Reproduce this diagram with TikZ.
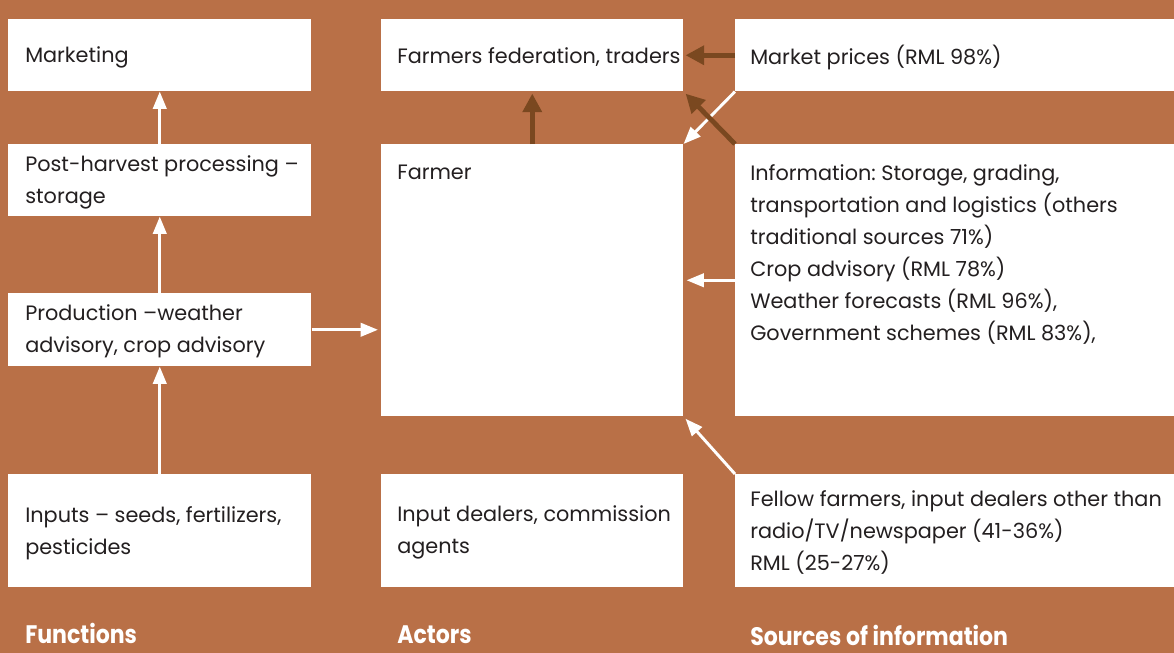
\documentclass[tikz,border=0pt]{standalone}
\usepackage{fontspec}
\setmainfont{Poppins}
\frenchspacing
\usetikzlibrary{arrows.meta,calc}
\definecolor{bg}{HTML}{B97047}
\definecolor{darr}{HTML}{7A4820}
\definecolor{ink}{HTML}{231F20}
\tikzset{
  box/.style={fill=white, draw=none, anchor=north west, inner sep=0pt},
  txt/.style={inner sep=0pt, align=left, text=ink, font=\fontsize{15.6}{24}\selectfont},
  lab/.style={inner sep=0pt, anchor=base west, text=white, font=\fontsize{19}{22}\selectfont\bfseries},
  warr/.style={draw=white, line width=2.2pt, -{Triangle[width=10pt,length=13pt]}},
  barr/.style={draw=darr, line width=3.6pt, -{Triangle[width=14pt,length=14pt]}}
}
\begin{document}
\begin{tikzpicture}[x=0.75pt,y=-0.75pt]
\fill[bg] (0,0) rectangle (1174,653);
\useasboundingbox (0,0) rectangle (1174,653);
% left column
\node[box, minimum width=303*0.75pt, minimum height=72*0.75pt] (mkt) at (8,19) {};
\node[box, minimum width=303*0.75pt, minimum height=72*0.75pt] (post) at (8,144) {};
\node[box, minimum width=303*0.75pt, minimum height=73*0.75pt] (prod) at (8,293) {};
\node[box, minimum width=303*0.75pt, minimum height=113*0.75pt] (inp) at (8,474) {};
% middle column
\node[box, minimum width=302*0.75pt, minimum height=72*0.75pt] (fed) at (381,19) {};
\node[box, minimum width=302*0.75pt, minimum height=272*0.75pt] (farmer) at (381,144) {};
\node[box, minimum width=302*0.75pt, minimum height=113*0.75pt] (dealers) at (381,474) {};
% right column
\node[box, minimum width=439*0.75pt, minimum height=72*0.75pt] (price) at (735,19) {};
\node[box, minimum width=439*0.75pt, minimum height=272*0.75pt] (info) at (735,144) {};
\node[box, minimum width=439*0.75pt, minimum height=113*0.75pt] (fellow) at (735,474) {};
% texts
\node[txt, anchor=west] (tmkt) at ([shift={(17,2)}]mkt.west) {Marketing};
\node[txt, anchor=west] (tpost) at ([shift={(17,2)}]post.west) {Post-harvest processing –\\storage};
\node[txt, anchor=west] (tprod) at ([shift={(17,2)}]prod.west) {Production –weather\\advisory, crop advisory};
\node[txt, anchor=west] (tinp) at ([shift={(17,2)}]inp.west) {Inputs – seeds, fertilizers,\\pesticides};
\node[txt, anchor=west] (tfed) at ([shift={(16,2)}]fed.west) {Farmers federation, traders};
\node[txt, anchor=north west] (tfarmer) at ([shift={(16,20.5)}]farmer.north west) {Farmer};
\node[txt, anchor=west] (tdealers) at ([shift={(16,2)}]dealers.west) {Input dealers, commission\\agents};
\node[txt, anchor=west] (tprice) at ([shift={(15,2)}]price.west) {Market prices (RML 98\%)};
\node[txt, anchor=north west] (tinfo) at ([shift={(15,20.5)}]info.north west) {Information: Storage, grading,\\transportation and logistics (others\\traditional sources 71\%)\\Crop advisory (RML 78\%)\\Weather forecasts (RML 96\%),\\Government schemes (RML 83\%),};
\node[txt, anchor=west] (tfellow) at ([shift={(15,2)}]fellow.west) {Fellow farmers, input dealers other than\\radio/TV/newspaper (41-36\%)\\RML (25-27\%)};
% bottom labels
\node[lab] (lf) at (25,643) {\scalebox{0.87}[1]{Functions}};
\node[lab] (la) at (397,643) {\scalebox{0.87}[1]{Actors}};
\node[lab] (ls) at (750,645) {\scalebox{0.87}[1]{Sources of information}};
% white arrows
\draw[warr] (post.north) -- (mkt.south);
\draw[warr] (prod.north) -- (post.south);
\draw[warr] (inp.north) -- (prod.south);
\draw[warr, shorten >=3*0.75pt] (prod.east) -- (prod.east -| farmer.west);
\draw[warr, shorten >=3*0.75pt] (info.west) -- (farmer.east);
\draw[warr, shorten >=3*0.75pt] (fellow.north west) -- (farmer.south east);
\draw[warr] (price.south west) -- (farmer.north east);
% brown arrows
\draw[barr, shorten >=2*0.75pt] (farmer.north) -- (fed.south);
\draw[barr, shorten >=2*0.75pt] (price.west) -- (fed.east);
\draw[barr, shorten >=3*0.75pt] (info.north west) -- (fed.south east);
\end{tikzpicture}
\end{document}
